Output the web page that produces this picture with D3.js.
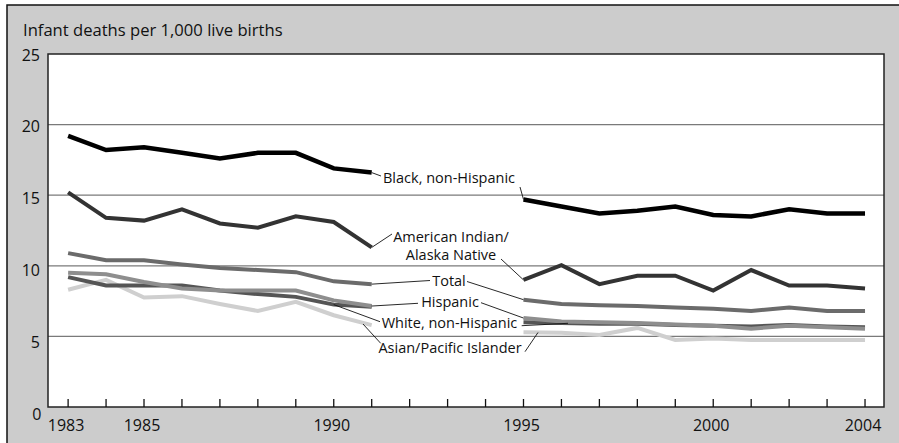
<!DOCTYPE html>
<html><head><meta charset="utf-8">
<script src="https://cdn.jsdelivr.net/npm/d3@7"></script>
<style>
html,body{margin:0;padding:0;background:#fff;}
svg{display:block;}
text{font-family:"Open Sans",sans-serif;fill:#111;}
</style></head>
<body><svg id="chart" width="899" height="443"></svg>
<script>
const years = d3.range(1983, 2005);
const blackNH  = [19.2,18.2,18.4,18.0,17.6,18.0,18.0,16.9,16.6,null,null,null,14.7,14.2,13.7,13.9,14.2,13.6,13.5,14.0,13.7,13.7];
const aian     = [15.2,13.4,13.2,14.0,13.0,12.7,13.5,13.1,11.3,null,null,null,9.0,10.05,8.7,9.3,9.3,8.25,9.7,8.6,8.6,8.4];
const total    = [10.9,10.4,10.4,10.1,9.85,9.7,9.55,8.9,8.7,null,null,null,7.6,7.3,7.2,7.15,7.05,6.95,6.8,7.05,6.8,6.8];
const hispanic = [9.5,9.4,8.85,8.4,8.25,8.25,8.25,7.55,7.15,null,null,null,6.3,6.05,6.0,5.95,5.85,5.75,5.55,5.75,5.65,5.55];
const whiteNH  = [9.2,8.6,8.6,8.6,8.25,8.0,7.8,7.25,7.1,null,null,null,6.0,5.95,5.9,5.9,5.8,5.75,5.7,5.8,5.7,5.65];
const asianPI  = [8.3,9.0,7.75,7.85,7.3,6.8,7.45,6.5,5.8,null,null,null,5.3,5.25,5.1,5.6,4.75,4.85,4.75,4.75,4.75,4.75];
const yTicks = [0,5,10,15,20,25];
const gridValues = [5,10,15,20];
const xLabelYears = [1983,1985,1990,1995,2000,2004];
const title = "Infant deaths per 1,000 live births";

const series = [
  {name:"Asian/Pacific Islander", values:asianPI, color:"#cfcfcf", width:4},
  {name:"White, non-Hispanic", values:whiteNH, color:"#555555", width:4},
  {name:"Hispanic", values:hispanic, color:"#8e8e8e", width:4},
  {name:"Total", values:total, color:"#6b6b6b", width:4},
  {name:"American Indian/Alaska Native", values:aian, color:"#333333", width:4},
  {name:"Black, non-Hispanic", values:blackNH, color:"#000000", width:4.5}
];

const svg = d3.select("#chart");
const L = 48, R = 884, T = 54, B = 407;
const x = d3.scaleLinear().domain([1982.47, 2004.5]).range([L, R]);
const y = d3.scaleLinear().domain([0, 25]).range([B, T]);
const yLab = d3.scaleLinear().domain([0, 25]).range([420, 60.5]);

// outer frame
svg.append("rect").attr("x",7).attr("y",5).attr("width",900).attr("height",450)
  .attr("fill","#cccccc").attr("stroke","#111").attr("stroke-width",1.5);

svg.append("text").attr("x",23).attr("y",35.5).attr("font-size",16.6).text(title);

// plot area
svg.append("rect").attr("x",L).attr("y",T).attr("width",R-L).attr("height",B-T)
  .attr("fill","#fff");

svg.append("g").selectAll("line").data(gridValues).join("line")
  .attr("x1",L).attr("x2",R).attr("y1",d=>y(d)).attr("y2",d=>y(d))
  .attr("stroke","#7a7a7a").attr("stroke-width",1.2);

const line = d3.line().defined(d=>d[1]!=null).x(d=>x(d[0])).y(d=>y(d[1]));
svg.append("g").selectAll("path").data(series).join("path")
  .attr("d",s=>line(years.map((yr,i)=>[yr,s.values[i]])))
  .attr("fill","none").attr("stroke",s=>s.color).attr("stroke-width",s=>s.width)
  .attr("stroke-linejoin","miter").attr("stroke-linecap","butt");

svg.append("rect").attr("x",L).attr("y",T).attr("width",R-L).attr("height",B-T)
  .attr("fill","none").attr("stroke","#222").attr("stroke-width",1.5);

// x ticks
svg.append("g").selectAll("line").data(years).join("line")
  .attr("x1",d=>x(d)).attr("x2",d=>x(d)).attr("y1",B).attr("y2",B-8)
  .attr("stroke","#111").attr("stroke-width",1.3);
svg.append("g").selectAll("text").data(xLabelYears).join("text")
  .attr("x",d=>x(d)-2).attr("y",430.5).attr("text-anchor","middle")
  .attr("font-size",16).text(d=>d);

// y labels
svg.append("g").selectAll("text").data(yTicks).join("text")
  .attr("x",d=>d===0?41.5:40).attr("y",d=>yLab(d)).attr("text-anchor","end")
  .attr("font-size",16).text(d=>d);

// annotations
const idx = yr => years.indexOf(yr);
const pt = (s, yr) => [x(yr), y(s.values[idx(yr)])];
const S = Object.fromEntries(series.map(s=>[s.name,s]));
const lab = [
  {lines:["Black, non-Hispanic"], x:449, y:[183], leaders:[[pt(S["Black, non-Hispanic"],1991),[381,176]],[[520,187],pt(S["Black, non-Hispanic"],1995)]]},
  {lines:["American Indian/","Alaska Native"], x:451, y:[242,260], leaders:[[pt(S["American Indian/Alaska Native"],1991),[392,234]],[[501,259],pt(S["American Indian/Alaska Native"],1995)]]},
  {lines:["Total"], x:449, y:[286], leaders:[[pt(S["Total"],1991),[430,280.5]],[[467,281.5],pt(S["Total"],1995)]]},
  {lines:["Hispanic"], x:450, y:[307], leaders:[[pt(S["Hispanic"],1991),[418,303.3]],[[481,302.7],pt(S["Hispanic"],1995)]]},
  {lines:["White, non-Hispanic"], x:449.5, y:[328], leaders:[[pt(S["White, non-Hispanic"],1990),[380,321.7]],[[521.7,325.7],[568,323.3]]]},
  {lines:["Asian/Pacific Islander"], x:450, y:[353], leaders:[[[363,324],[380.7,343.3]],[[525,351.7],[538,332.5]]]}
];
const ag = svg.append("g");
lab.forEach(a=>{
  a.leaders.forEach(l=>ag.append("line").attr("x1",l[0][0]).attr("y1",l[0][1]).attr("x2",l[1][0]).attr("y2",l[1][1])
    .attr("stroke","#111").attr("stroke-width",0.9));
  a.lines.forEach((t,i)=>ag.append("text").attr("x",a.x).attr("y",a.y[i]).attr("text-anchor","middle")
    .attr("font-size",14.5).text(t));
});
</script></body></html>
